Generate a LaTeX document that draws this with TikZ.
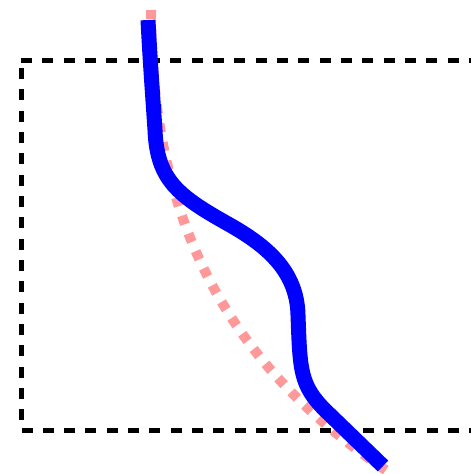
\documentclass[tikz,border=0pt]{standalone}
\definecolor{pinkline}{RGB}{255,153,153}
\definecolor{blueline}{RGB}{0,0,255}
\tikzset{
  frameline/.style={line width=5pt, dash pattern=on 11pt off 10.33pt, black},
  pinkpath/.style={line width=10pt, dash pattern=on 9pt off 10pt, pinkline},
  bluepath/.style={line width=15pt, blueline}
}
\begin{document}
\begin{tikzpicture}[x=1pt,y=-1pt]
\useasboundingbox (0,0) rectangle (471,474);
% frame
\coordinate (tl) at (21,60);
\coordinate (tr) at (485,60);
\coordinate (bl) at (21.5,430);
\coordinate (br) at (485,430);
\coordinate (lt) at (21,68);
\coordinate (lb) at (21,422);
\draw[frameline] (tl) -- (tr);
\draw[frameline] (bl) -- (br);
\draw[frameline] (lt) -- (lb);
% pink dotted curve
\coordinate (p0) at (151,10);
\coordinate (p1) at (387,471);
\draw[pinkpath] (p0) .. controls (151,235) and (238,370) .. (p1);
% blue curve
\coordinate (b0) at (148,20);
\coordinate (b1) at (155,130);
\coordinate (b2) at (230,225);
\coordinate (b3) at (298,315);
\coordinate (b4) at (325,410);
\coordinate (b5) at (383,466);
\draw[bluepath] (b0) .. controls (150,60) and (153,100) .. (b1)
  .. controls (157,180) and (178,196) .. (b2)
  .. controls (265,245) and (297,270) .. (b3)
  .. controls (300,370) and (300,385) .. (b4)
  -- (b5);
\end{tikzpicture}
\end{document}
